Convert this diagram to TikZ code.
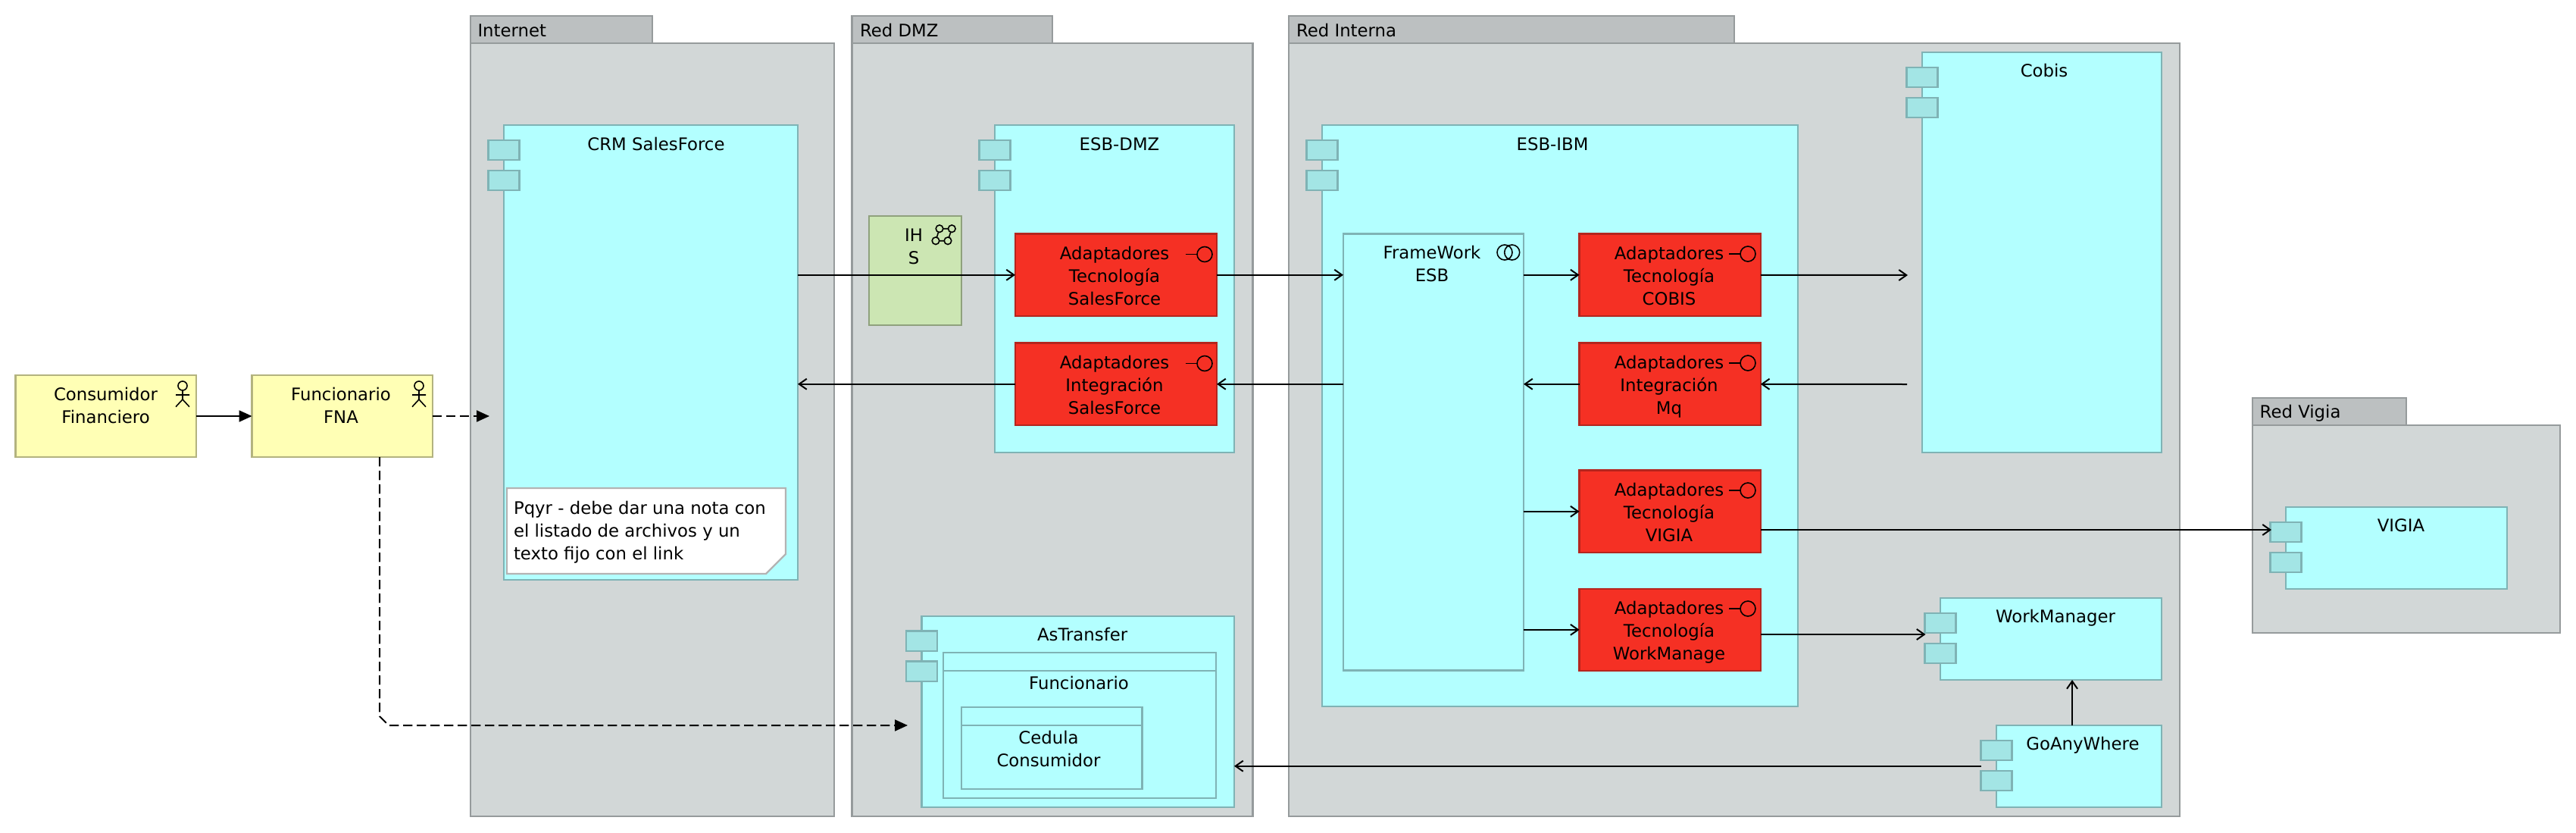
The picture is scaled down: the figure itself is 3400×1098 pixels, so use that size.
\documentclass[tikz,border=0pt]{standalone}
\usepackage{fontspec}
\setmainfont{DejaVu Sans}
\usetikzlibrary{arrows.meta,calc}
\definecolor{pkgfill}{RGB}{210,215,215}
\definecolor{pkgtab}{RGB}{188,192,193}
\definecolor{pkgline}{RGB}{150,155,156}
\definecolor{compfill}{RGB}{179,255,255}
\definecolor{compline}{RGB}{127,179,181}
\definecolor{comptab}{RGB}{163,229,229}
\definecolor{redfill}{RGB}{245,48,36}
\definecolor{redline}{RGB}{181,37,30}
\definecolor{yelfill}{RGB}{255,255,181}
\definecolor{yelline}{RGB}{179,179,127}
\definecolor{grnfill}{RGB}{204,230,179}
\definecolor{grnline}{RGB}{143,161,125}
\definecolor{noteline}{RGB}{179,179,179}
\tikzset{
  boxbase/.style={rectangle,inner sep=0pt,outer sep=0pt,line width=1.2pt},
  pkgbody/.style={boxbase,draw=pkgline,fill=pkgfill},
  pkghead/.style={boxbase,draw=pkgline,fill=pkgtab},
  compbody/.style={boxbase,draw=compline,fill=compfill},
  comptabbox/.style={boxbase,draw=compline,fill=comptab},
  redbox/.style={boxbase,draw=redline,fill=redfill},
  actorbox/.style={boxbase,draw=yelline,fill=yelfill},
  grnbox/.style={boxbase,draw=grnline,fill=grnfill},
  lbl/.style={inner sep=0pt,outer sep=0pt,anchor=base,align=center,font=\fontsize{11.4pt}{15pt}\selectfont,text=black},
  lblleft/.style={lbl,anchor=base west,align=left},
  iconline/.style={draw=black,line width=.8pt},
  arr/.style={draw=black,line width=1pt,-{Straight Barb[length=5pt,width=7pt]}},
  plainarr/.style={draw=black,line width=1pt,-{Triangle[length=8.5pt,width=7.5pt]}},
  dasharr/.style={plainarr,dash pattern=on 6.2pt off 2.8pt},
}
\newcommand{\bx}[6]{\node[#2,minimum width={((#5)-(#3))*.5pt},minimum height={((#6)-(#4))*.5pt}] (#1) at ({((#3)+(#5))/2},{((#4)+(#6))/2}) {};}
% component: box plus its two tabs
\newcommand{\comp}[5]{%
  \bx{#1}{compbody}{#2}{#3}{#4}{#5}
  \bx{#1-t1}{comptabbox}{#2-20.5}{#3+19.7}{#2+20.5}{#3+46}
  \bx{#1-t2}{comptabbox}{#2-20.5}{#3+59.7}{#2+20.5}{#3+86}}
% package: tab and body
\newcommand{\pkg}[7]{%
  \bx{#1-head}{pkghead}{#2}{#3}{#4}{#5}
  \bx{#1}{pkgbody}{#2}{#5}{#6}{#7}}
\newcommand{\iface}[2]{%
  \draw[iconline] (#1-25,#2) -- (#1-10,#2);
  \draw[iconline] (#1,#2) circle (5pt);}
\newcommand{\actor}[1]{%
  \draw[iconline] (#1,509) circle (3pt);
  \draw[iconline] (#1,515) -- (#1,527) (#1-9,521) -- (#1+9,521)
    (#1-9,536.7) -- (#1,527) -- (#1+9,536.7);}
\begin{document}
\begin{tikzpicture}[x=.5pt,y=-.5pt]
\useasboundingbox (0,0) rectangle (3400,1098);
% packages
\pkg{inet}{620.7}{20.7}{861}{57}{1101}{1076.7}
\pkg{dmz}{1124.5}{20.7}{1389}{57}{1653.5}{1076.7}
\pkg{intra}{1701}{20.7}{2289}{57}{2877}{1076.7}
\pkg{rvig}{2972.7}{524.7}{3176}{560.7}{3379}{834.7}
\node[lblleft] (inet-l) at (630.5,48) {Internet};
\node[lblleft] (dmz-l) at (1135,48) {Red DMZ};
\node[lblleft] (intra-l) at (1711,48) {Red Interna};
\node[lblleft] (rvig-l) at (2982.7,551.7) {Red Vigia};
% actors
\bx{cons}{actorbox}{20.5}{495}{259}{603}
\bx{func}{actorbox}{332.6}{495}{571}{603}
\node[lbl] (cons-l) at (139.5,558) {Consumidor\\Financiero};
\node[lbl] (func-l) at (450,558) {Funcionario\\FNA};
\actor{241}
\actor{553}
% CRM
\comp{crm}{665}{165}{1053}{765}
\node[lbl] (crm-l) at (866,198) {CRM SalesForce};
\draw[line width=1.2pt,draw=noteline,fill=white] (669,644) -- (1037,644) -- (1037,731) -- (1011,757) -- (669,757) -- cycle;
\node[lblleft] (note-l) at (678,738) {Pqyr - debe dar una nota con\\el listado de archivos y un\\texto fijo con el link};
% DMZ
\bx{ihs}{grnbox}{1147}{285}{1269}{429}
\node[lbl] (ihs-l) at (1206,348) {IH\\S};
\draw[iconline] (1240,301.7) -- (1256.3,301.7) -- (1251,317.7) -- (1235,317.7) -- cycle;
\foreach \cx/\cy in {1240/301.7,1256.3/301.7,1235/317.7,1251/317.7}
  \draw[iconline,fill=grnfill] (\cx,\cy) circle (2.4pt);
\comp{esbd}{1313}{165}{1629}{597}
\node[lbl] (esbd-l) at (1477.5,198) {ESB-DMZ};
\bx{a1}{redbox}{1340}{308.5}{1606}{417}
\bx{a2}{redbox}{1340}{452.5}{1606}{561}
\node[lbl] (a1-l) at (1471,402.5) {Adaptadores\\Tecnología\\SalesForce};
\node[lbl] (a2-l) at (1471,546.5) {Adaptadores\\Integración\\SalesForce};
\iface{1590}{335.5}
\iface{1590}{479.5}
\comp{ast}{1216.6}{812.7}{1629}{1065}
\node[lbl] (ast-l) at (1428.6,845.7) {AsTransfer};
\bx{astf}{compbody}{1245}{860.7}{1605}{1053}
\draw[line width=1.2pt,draw=compline] (astf.west |- 0,885) -- (astf.east |- 0,885);
\node[lbl] (astf-l) at (1424,909) {Funcionario};
\bx{astc}{compbody}{1269}{933}{1507.4}{1041}
\draw[line width=1.2pt,draw=compline] (astc.west |- 0,957) -- (astc.east |- 0,957);
\node[lbl] (astc-l) at (1384,1011.7) {Cedula\\Consumidor};
% Interna
\comp{esbi}{1745}{165}{2373}{932}
\node[lbl] (esbi-l) at (2049,198) {ESB-IBM};
\bx{fw}{compbody}{1773}{308.5}{2011}{884.6}
\node[lbl] (fw-l) at (1890,371.7) {FrameWork\\ESB};
\draw[iconline] (1986,333) circle (5pt) (1995.7,333) circle (5pt);
\bx{a5}{redbox}{2084.6}{308.5}{2323.8}{417}
\bx{a6}{redbox}{2084.6}{452.5}{2323.8}{561}
\bx{a7}{redbox}{2084.6}{620.6}{2323.8}{729}
\bx{a8}{redbox}{2084.6}{776.7}{2323.8}{885}
\node[lbl] (a5-l) at (2203,402.5) {Adaptadores\\Tecnología\\COBIS};
\node[lbl] (a6-l) at (2203,546.5) {Adaptadores\\Integración\\Mq};
\node[lbl] (a7-l) at (2203,714.5) {Adaptadores\\Tecnología\\VIGIA};
\node[lbl] (a8-l) at (2203,870.5) {Adaptadores\\Tecnología\\WorkManage};
\iface{2307}{335}
\iface{2307}{479}
\iface{2307}{647}
\iface{2307}{803}
\comp{cobis}{2537}{69}{2853}{597}
\node[lbl] (cobis-l) at (2698,101) {Cobis};
\comp{wm}{2561}{789}{2853}{897}
\node[lbl] (wm-l) at (2713,821.7) {WorkManager};
\comp{gaw}{2635}{957}{2853}{1064.7}
\node[lbl] (gaw-l) at (2749,989) {GoAnyWhere};
% Vigia
\comp{vig}{3017}{669}{3309}{776.7}
\node[lbl] (vig-l) at (3169,701) {VIGIA};
% free connector ends
\coordinate (crmport) at (646,549);
\coordinate (astport) at (1198,957);
\coordinate (chamfer) at (501,945);
\coordinate (chamferb) at (513,957);
\coordinate (cobisin) at (2518,363);
\coordinate (cobisout) at (2517,507);
\coordinate (vigport) at (2998,699);
\coordinate (wmport) at (2541.5,837);
\coordinate (gawport) at (2615,1010.7);
\coordinate (wmup) at (2735,0);
% connectors
\draw[plainarr] (cons.east) -- (func.west);
\draw[dasharr] (func.east) -- (crmport);
\draw[dasharr] (func.south -| chamfer) -- (chamfer) -- (chamferb) -- (astport);
\draw[arr] (crm.east |- a1.west) -- (a1.west);
\draw[arr] (a2.west) -- (crm.east |- a2.west);
\draw[arr] (a1.east) -- (fw.west |- a1.east);
\draw[arr] (fw.west |- a2.east) -- (a2.east);
\draw[arr] (fw.east |- a5.west) -- (a5.west);
\draw[arr] (a6.west) -- (fw.east |- a6.west);
\draw[arr] (fw.east |- a7.west) -- (a7.west);
\draw[arr] (fw.east |- a8.west) -- (a8.west);
\draw[arr] (a5.east) -- (cobisin);
\draw[arr] (cobisout) -- (a6.east);
\draw[arr] (a7.east |- vigport) -- (vigport);
\draw[arr] (a8.east |- wmport) -- (wmport);
\draw[arr] (gaw.north -| wmup) -- (wm.south -| wmup);
\draw[arr] (gawport) -- (ast.east |- gawport);
\end{tikzpicture}
\end{document}
